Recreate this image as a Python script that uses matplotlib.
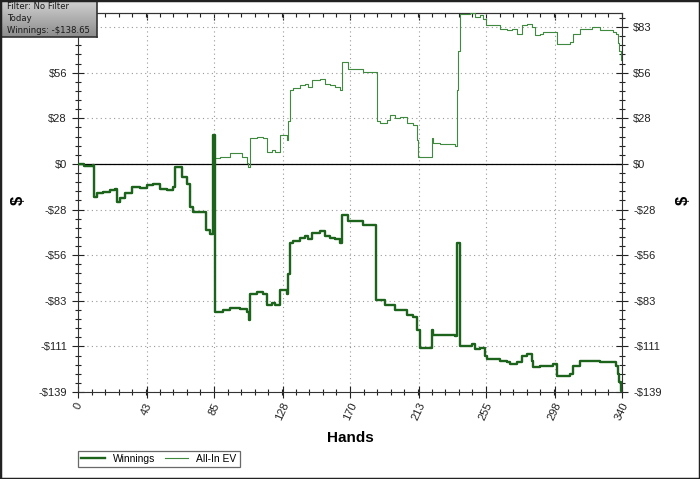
import numpy as np
import matplotlib
matplotlib.use("Agg")
import matplotlib.pyplot as plt
from matplotlib.patches import Rectangle
from matplotlib.ticker import FixedLocator, FuncFormatter

# hand number / dollar value where the line changes
win_hands = [0, 3.8, 5.6, 9.4, 9.8, 11.9, 15.6, 20, 23, 24.4, 26, 29.4, 33.6, 38.8, 42.9,
             46.9, 51.3, 55.4, 59.4, 60.6, 63.1, 64.8, 67.9, 70, 71.9, 78.8, 79.8, 82.5,
             84.2, 84.6, 85.4, 85.6, 90.8, 95, 101.3, 105.4, 107.1, 107.5, 111.7, 115.8,
             117.9, 121.1, 123.1, 126.3, 130.4, 131.4, 132.5, 134.4, 138.8, 141.9, 143.8,
             146, 149.2, 151.3, 154.4, 157.5, 160.6, 163.8, 164.8, 167.9, 168.9, 178.3,
             186.3, 191.9, 198.1, 201.3, 205.4, 209.4, 211.7, 213.8, 220, 221.1, 222.1,
             226.3, 235.6, 236.7, 238.3, 238.8, 246, 248.1, 251.3, 254.4, 255.4, 263.8,
             267.9, 270, 274.2, 277.3, 280.4, 283.6, 284.6, 288.8, 297, 299.2, 307.5, 309.6,
             313.8, 321, 326.3, 332.5, 336.2, 337.6, 338.4, 339.2, 340]
win_vals = [0, -1, -1.5, -0.5, -20, -18, -17, -16, -15, -23, -21, -18, -14, -14.5, -13,
            -12, -15, -16, -14, -2, -2, -8, -12, -26, -29, -29, -40, -43,
            -37, 17.6, -32, -90, -89, -88, -88.5, -90, -95, -79, -78, -79,
            -86, -85, -86, -77, -79, -67, -48, -47, -45, -44, -46,
            -42, -42, -41, -44, -45, -46, -48, -31, -31, -35, -37,
            -83, -86, -89, -89, -92, -93, -101, -112, -112, -101, -104,
            -104, -105, -48, -48, -111, -110, -113, -112, -117, -119, -120,
            -121, -122, -121, -117, -116, -120, -124, -123, -122, -129, -128, -123,
            -120, -120, -121, -121, -123, -128, -133, -138.65, -138.65]

ev_hands = [0, 3.8, 5.6, 9.4, 9.8, 11.9, 15.6, 20, 23, 24.4, 26, 29.4, 33.6, 38.8, 42.9,
            46.9, 51.3, 55.4, 59.4, 60.6, 63.1, 64.8, 67.9, 70, 71.9, 78.8, 79.8, 82.5,
            84.2, 85.2, 88.8, 95, 102.3, 105.4, 106.4, 107.5, 111.7, 115.8, 117.9, 121.1,
            123.1, 126.3, 130.4, 131.4, 132.5, 134.4, 138.8, 141.9, 143.8, 146, 149.2,
            151.3, 154.4, 157.5, 160.6, 163.8, 164.8, 167.9, 168.9, 178.3, 186.7, 189,
            193, 195, 198.1, 201.3, 205.4, 209.6, 211.7, 212.7, 220, 221.1, 222.1, 226.3,
            235.6, 236.7, 237.7, 238.8, 245, 248.1, 251.3, 253.3, 255, 263.8, 267.9, 271,
            274.2, 277.3, 280.4, 283.6, 285.6, 288.8, 290.8, 297.5, 299.2, 307.5, 309.6,
            313.8, 321, 326.3, 334.6, 336.2, 337.6, 338.4, 339.2, 340]
ev_vals = [0, -1, -1.5, -0.5, -20, -18, -17, -16, -15, -23, -21, -18, -14, -14.5, -13,
           -12, -15, -16, -14, -2, -2, -8, -12, -26, -29, -29, -40, -43,
           -37, 3.5, 4.5, 6.5, 4.5, 0.4, -1.6, 15.6, 16.6, 15.6, 7.5, 8.5,
           7.5, 17.6, 14.6, 26, 45, 46, 48, 49, 47, 51, 51,
           52, 49, 48, 47, 45, 62, 62, 58, 56, 26, 24.7,
           26.8, 30, 27.8, 28.7, 24.7, 23.7, 14.6, 4.4, 4.4, 15.6, 12.6, 12.2,
           11, 45, 69, 91.6, 92, 89.6, 90.6, 88.6, 84.5, 82.5, 81.5, 82.5,
           79.4, 84.5, 85.5, 83.5, 78.4, 79.4, 80.4, 80.4, 73.4, 74.4, 79.4,
           82.5, 83.5, 81.5, 80.4, 79.4, 74, 69, 63.2, 63.2]

x_ticks = [0, 43, 85, 128, 170, 213, 255, 298, 340]
y_step = 27.8
y_ticks = [k * y_step for k in range(-5, 4)]

plt.rcParams['font.family'] = ['Liberation Sans', 'DejaVu Sans']

fig = plt.figure(figsize=(7, 4.79), dpi=100)
ax = fig.add_axes([78/700, 1 - 392/479, 544/700, 379/479])

win_col = '#1c631c'
ev_col = '#3f8a3f'
ax.plot(ev_hands, ev_vals, color=ev_col, lw=0.8, label='All-In EV',
        drawstyle='steps-post', zorder=3)
ax.plot(win_hands, win_vals, color=win_col, lw=1.7, label='Winnings',
        drawstyle='steps-post', zorder=4)
ax.axhline(0, color='black', lw=0.9, zorder=2)

ax.set_xlim(0, 340)
ax.set_ylim(-139, 92)

ax.xaxis.set_major_locator(FixedLocator(x_ticks))
ax.xaxis.set_minor_locator(FixedLocator(np.arange(0, 340.1, 8.5)))
ax.yaxis.set_major_locator(FixedLocator(y_ticks))
ax.yaxis.set_minor_locator(FixedLocator(np.arange(-139, 92, y_step / 5)))

def money(v, pos):
    v = int(round(v))
    return '-$%d' % -v if v < 0 else '$%d' % v

ax.yaxis.set_major_formatter(FuncFormatter(money))
ax.set_xticklabels([str(t) for t in x_ticks], rotation=65, ha='center', va='top')

ax.tick_params(axis='both', which='major', direction='inout', length=9, width=0.8,
               labelsize=8, colors='#222222')
ax.tick_params(axis='both', which='minor', direction='inout', length=5, width=0.8,
               colors='#222222')
ax.tick_params(axis='y', which='both', right=True, labelright=True)
ax.tick_params(axis='x', which='major', pad=2)

# top axis ticks only point inwards
top = ax.secondary_xaxis('top')
top.xaxis.set_major_locator(FixedLocator(x_ticks))
top.xaxis.set_minor_locator(FixedLocator(np.arange(0, 340.1, 8.5)))
top.tick_params(which='major', direction='in', length=5, width=0.8, labeltop=False,
                colors='#222222')
top.tick_params(which='minor', direction='in', length=3, width=0.8, colors='#222222')
top.spines['top'].set_color('#333333')
top.spines['top'].set_linewidth(0.8)

ax.grid(True, which='major', color='#999999', linestyle=(0, (1, 3)), lw=0.8)
for s in ax.spines.values():
    s.set_color('#333333')
    s.set_linewidth(0.8)

ax.set_xlabel('Hands', fontsize=11, fontweight='bold', labelpad=6)
fig.text(18/700, 1 - 200/479, '$', fontsize=12, fontweight='bold', rotation=90,
         ha='center', va='center')
fig.text(683/700, 1 - 200/479, '$', fontsize=12, fontweight='bold', rotation=90,
         ha='center', va='center')

# legend along the bottom
h, l = ax.get_legend_handles_labels()
leg = fig.legend(h[::-1], l[::-1], ncol=2, loc='upper left',
                 bbox_to_anchor=(78/700, 1 - 451/479), borderaxespad=0, fontsize=7.4,
                 frameon=True, fancybox=False, handlelength=2.3, borderpad=0.3,
                 columnspacing=0.9, handletextpad=0.8)
leg.get_frame().set_edgecolor('#444444')
leg.get_frame().set_linewidth(0.9)

# filter info box, gray gradient (it covers the left $83 label in the original)
bx = fig.add_axes([0, 1 - 37/479, 97/700, 37/479])
grad = np.linspace(0.82, 0.55, 50).reshape(-1, 1)
bx.imshow(np.repeat(grad, 10, axis=1), cmap='gray', vmin=0, vmax=1, aspect='auto',
          extent=[0, 1, 0, 1])
bx.set_xticks([])
bx.set_yticks([])
for s in bx.spines.values():
    s.set_color('#333333')
    s.set_linewidth(1.2)
for i, txt in enumerate(['Filter: No Filter', 'Today', 'Winnings: -$138.65']):
    bx.text(0.07, 0.83 - i * 0.325, txt, fontsize=6.1, family='DejaVu Sans',
            color='#1a1a1a', va='center', ha='left', transform=bx.transAxes)

# outer frame
fig.patches.append(Rectangle((0, 0), 1, 1, transform=fig.transFigure, fill=False,
                             edgecolor='#222222', lw=2.5))

fig.canvas.draw()
ax.yaxis.get_major_ticks()[-1].label1.set_visible(False)

fig.savefig('out.png', dpi=100)
